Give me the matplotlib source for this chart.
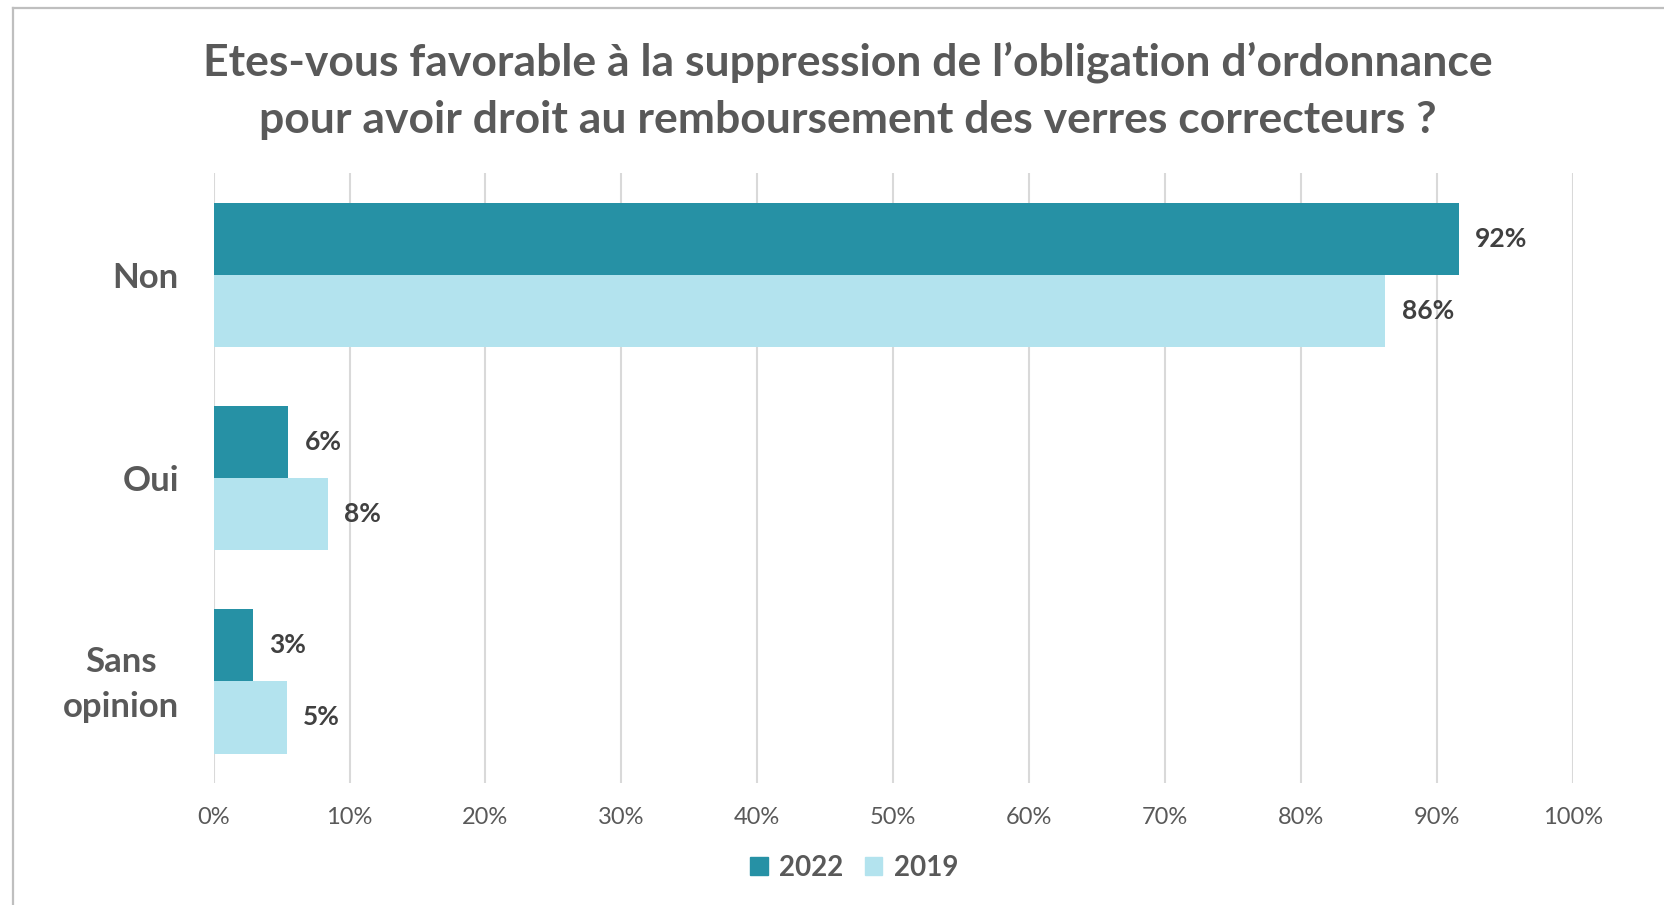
import matplotlib.pyplot as plt
from matplotlib.lines import Line2D
from matplotlib.patches import Patch
from matplotlib.transforms import ScaledTranslation
import numpy as np

plt.rcParams['font.family'] = ['Lato', 'DejaVu Sans']

categories = ["Non", "Oui", "Sans\nopinion"]
values_2022 = [91.6, 5.5, 2.9]
values_2019 = [86.2, 8.4, 5.4]
labels_2022 = ["92%", "6%", "3%"]
labels_2019 = ["86%", "8%", "5%"]
series = ["2022", "2019"]
ticks = list(range(0, 101, 10))

dark = "#2691a5"
light = "#b3e3ee"
grey = "#595959"

fig = plt.figure(figsize=(16.65, 9.05), dpi=100)
ax = fig.add_axes([0.1283, 0.1348, 0.8164, 0.674])

y = np.arange(len(categories))
h = 0.355
ax.barh(y - h / 2, values_2022, height=h, color=dark, label=series[0], zorder=3)
ax.barh(y + h / 2, values_2019, height=h, color=light, label=series[1], zorder=3)

for yi, v, t in zip(y, values_2022, labels_2022):
    ax.text(v + 1.2, yi - h / 2, t, va="center", ha="left", fontsize=19,
            fontweight="bold", color="#404040")
for yi, v, t in zip(y, values_2019, labels_2019):
    ax.text(v + 1.2, yi + h / 2, t, va="center", ha="left", fontsize=19,
            fontweight="bold", color="#404040")

ax.set_xlim(0, 100)
ax.set_ylim(2.5, -0.5)
ax.set_xticks(ticks)
ax.set_xticklabels([f"{t}%" for t in ticks], fontsize=17, color=grey)
ax.set_yticks(y)
ax.set_yticklabels(categories, fontsize=25, fontweight="bold", color=grey,
                   multialignment="center", linespacing=1.5)
ax.tick_params(axis="x", length=0, pad=17)
ax.tick_params(axis="y", length=0, pad=25)
ax.grid(axis="x", color="#d9d9d9", linewidth=1.5, zorder=0)
for s in ax.spines.values():
    s.set_visible(False)

# the two-line label sits a little higher in the original
lab = ax.get_yticklabels()[2]
lab.set_transform(lab.get_transform() + ScaledTranslation(0, 0.06, fig.dpi_scale_trans))

fig.text(0.509, 0.900, "Etes-vous favorable à la suppression de l’obligation d’ordonnance\n"
         "pour avoir droit au remboursement des verres correcteurs ?",
         ha="center", va="center", fontsize=32, fontweight="bold", color=grey,
         linespacing=1.5)

handles = [Patch(color=dark), Patch(color=light)]
fig.legend(handles, series, loc="center", bbox_to_anchor=(0.513, 0.041), ncol=2,
           frameon=False, prop={"size": 20, "weight": "bold"}, labelcolor=grey,
           handlelength=0.62, handleheight=0.62, handletextpad=0.4, columnspacing=0.8)

# outer chart frame (only top and left visible in the crop)
fig.add_artist(Line2D([13.5 / 1665, 1], [1 - 8.5 / 905] * 2, color="#bfbfbf", lw=1.6))
fig.add_artist(Line2D([13.5 / 1665] * 2, [0, 1 - 8.5 / 905], color="#bfbfbf", lw=1.6))

fig.savefig("out.png", dpi=100)
